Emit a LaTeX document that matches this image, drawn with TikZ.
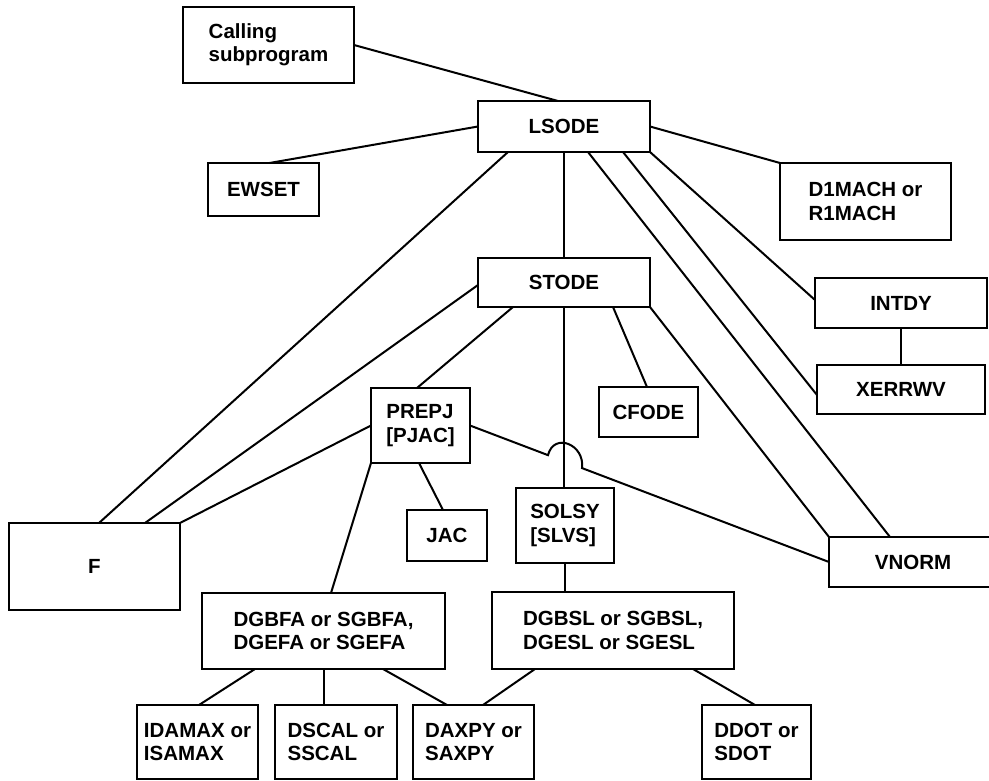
\documentclass[tikz,border=0pt]{standalone}
\usepackage{fontspec}
\setmainfont{Liberation Sans}
\usetikzlibrary{calc}
\tikzset{
  box/.style={draw, line width=2.4pt, inner sep=0pt, outer sep=0pt, align=left,
    font=\fontsize{20.5}{23.3}\selectfont\bfseries},
  link/.style={line width=2pt},
}
\newcommand{\bx}[6]{\node[box, minimum width={(#4-#2)*1pt}, minimum height={(#5-#3)*1pt}] (#1) at ({(#2+#4)/2},{(#3+#5)/2}) {#6};}
\begin{document}
\begin{tikzpicture}[x=1pt,y=-1pt]
\useasboundingbox (0,0) rectangle (989,781);
\clip (0,0) rectangle (989,781);
\bx{calling}{183}{7}{354}{83}{Calling\\subprogram}
\bx{lsode}{478}{101}{650}{152}{LSODE}
\bx{ewset}{208}{163}{319}{216}{EWSET}
\bx{d1mach}{780}{163}{951}{240}{D1MACH or\\R1MACH}
\bx{stode}{478}{258}{650}{307}{STODE}
\bx{intdy}{815}{278}{987}{328}{INTDY}
\bx{xerrwv}{817}{365}{985}{414}{XERRWV}
\bx{cfode}{599}{387}{698}{437}{CFODE}
\bx{prepj}{371}{388}{470}{463}{PREPJ\\{[PJAC]}}
\bx{jac}{407}{510}{487}{561}{JAC}
\bx{solsy}{516}{488}{614}{563}{SOLSY\\{[SLVS]}}
\bx{f}{9}{523}{180}{610}{F}
\bx{vnorm}{829}{537}{997}{587}{VNORM}
\bx{dgbfa}{202}{593}{445}{669}{DGBFA or SGBFA,\\DGEFA or SGEFA}
\bx{dgbsl}{492}{592}{734}{669}{DGBSL or SGBSL,\\DGESL or SGESL}
\bx{idamax}{137}{705}{258}{779}{IDAMAX or\\ISAMAX}
\bx{dscal}{275}{705}{397}{779}{DSCAL or\\SSCAL}
\bx{daxpy}{413}{705}{534}{779}{DAXPY or\\SAXPY}
\bx{ddot}{702}{705}{811}{779}{DDOT or\\SDOT}
% connectors
\draw[link] (calling.east) -- ($(lsode.north west)+(80,0)$);
\draw[link] (lsode.west) -- ($(ewset.north)+(6,0)$);
\draw[link] (lsode.east) -- (d1mach.north west);
\draw[link] ($(lsode.south west)+(30,0)$) -- ($(f.north west)+(90,0)$);
\draw[link] (lsode.south) -- (lsode.south |- stode.north);
\draw[link] ($(lsode.south west)+(110,0)$) -- ($(vnorm.north west)+(61,0)$);
\draw[link] ($(lsode.south west)+(145,0)$) -- ($(xerrwv.north west)+(0,30)$);
\draw[link] (lsode.south east) -- ($(intdy.north west)+(0,22)$);
\draw[link] (intdy.south) -- (intdy.south |- xerrwv.north);
\draw[link] ($(stode.north west)+(0,27)$) -- ($(f.north west)+(136,0)$);
\draw[link] ($(stode.south west)+(35,0)$) -- ($(prepj.north west)+(46,0)$);
\draw[link] (stode.south) -- (stode.south |- solsy.north);
\draw[link] ($(stode.south west)+(135,0)$) -- ($(cfode.north west)+(48,0)$);
\draw[link] (stode.south east) -- (vnorm.north west);
\draw[link] (prepj.west) -- (f.north east);
\draw[link] ($(prepj.south west)+(48,0)$) -- ($(jac.north west)+(36,0)$);
\draw[link] (prepj.south west) -- ($(dgbfa.north west)+(129,0)$);
\draw[link] (prepj.east) -- ($(prepj.east)!0.2173!(vnorm.west)$)
  .. controls +(6,-23.5) and +(3,-23.5) .. ($(prepj.east)!0.312!(vnorm.west)$)
  -- (vnorm.west);
\draw[link] (solsy.south) -- (solsy.south |- dgbsl.north);
\coordinate (dsc) at ($(dgbfa.south west)+(122,0)$);
\draw[link] ($(dgbfa.south west)+(53,0)$) -- ($(idamax.north west)+(62,0)$);
\draw[link] (dsc) -- (dsc |- dscal.north);
\draw[link] ($(dgbfa.south west)+(181,0)$) -- ($(daxpy.north west)+(34,0)$);
\draw[link] ($(dgbsl.south west)+(43,0)$) -- ($(daxpy.north west)+(70,0)$);
\draw[link] ($(dgbsl.south west)+(201,0)$) -- ($(ddot.north west)+(53,0)$);
\end{tikzpicture}
\end{document}
